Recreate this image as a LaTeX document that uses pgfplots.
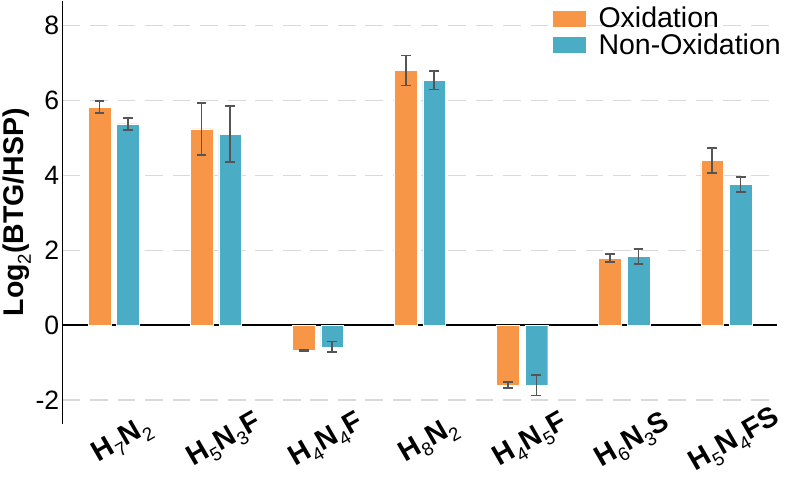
\documentclass[border=0pt]{standalone}
\usepackage{fontspec}
\setmainfont{Liberation Sans}
\usepackage{pgfplots}
\pgfplotsset{compat=1.18}
\definecolor{oxi}{HTML}{F79646}
\definecolor{nonoxi}{HTML}{4BACC6}
\definecolor{errgray}{HTML}{555555}
\definecolor{gridgray}{HTML}{D9D9D9}
\newcommand{\chartfont}{\fontsize{27}{30}\selectfont}
\newcommand{\labelfont}{\fontsize{29}{32}\selectfont}
\newcommand{\sub}[1]{\raisebox{-7pt}{\mdseries\fontsize{19}{19}\selectfont #1}}

\pgfplotstableread{
x  y     e
0  5.82  0.16
1  5.24  0.70
2 -0.67  0.02
3  6.80  0.40
4 -1.61  0.08
5  1.79  0.10
6  4.39  0.33
}\oxidation
\pgfplotstableread{
x  y     e
0  5.37  0.16
1  5.10  0.75
2 -0.58  0.14
3  6.54  0.25
4 -1.61  0.27
5  1.83  0.20
6  3.76  0.20
}\nonoxidation

\begin{document}
\begin{tikzpicture}
\begin{axis}[
  scale only axis,
  width=727pt, height=430pt,
  xmin=-0.5, xmax=6.5,
  ymin=-2.63, ymax=8.66,
  enlargelimits=false,
  ybar=6pt, bar width=23pt,
  axis y line*=left, axis x line*=bottom,
  x axis line style={draw=none},
  y axis line style={line width=1.6pt},
  major tick length=0pt,
  ytick={-2,0,2,4,6,8},
  xtick={0,...,6},
  xticklabels={
    {\textbf{H\sub{7}N\sub{2}}},
    {\textbf{H\sub{5}N\sub{3}F}},
    {\textbf{H\sub{4}N\sub{4}F}},
    {\textbf{H\sub{8}N\sub{2}}},
    {\textbf{H\sub{4}N\sub{5}F}},
    {\textbf{H\sub{6}N\sub{3}S}},
    {\textbf{H\sub{5}N\sub{4}FS}}},
  x tick label style={font=\labelfont, xshift=9pt, yshift=-18pt, rotate=30, anchor=center},
  /pgf/number format/assume math mode=true,
  y tick label style={font=\chartfont},
  ylabel={\textbf{Log\sub{2}(BTG/HSP)}},
  ylabel style={font=\labelfont, yshift=-2pt},
  ymajorgrids,
  grid style={gridgray, line width=1.3pt, dash pattern=on 18pt off 10pt},
  extra y ticks={0},
  extra y tick labels={},
  extra y tick style={grid=major, major grid style={black, solid, line width=1.6pt}},
  legend style={draw=none, fill=none, at={(1.005,0.985)}, anchor=north east,
    font=\labelfont, row sep=4pt, inner sep=0pt,
    nodes={inner sep=0pt},
    /tikz/every odd column/.append style={column sep=12pt}},
  legend cell align=left,
  legend image code/.code={\fill[#1] (0pt,-8.5pt) rectangle (35pt,8.5pt);},
]
\addplot[fill=oxi, draw=white, line width=0.4pt,
  error bars/.cd, y dir=both, y explicit,
  error bar style={errgray, line width=1.8pt},
  error mark options={errgray, rotate=90, mark size=5pt, line width=1.8pt}]
  table[x=x, y=y, y error=e] {\oxidation};
\addplot[fill=nonoxi, draw=white, line width=0.4pt,
  error bars/.cd, y dir=both, y explicit,
  error bar style={errgray, line width=1.8pt},
  error mark options={errgray, rotate=90, mark size=5pt, line width=1.8pt}]
  table[x=x, y=y, y error=e] {\nonoxidation};
\legend{Oxidation, Non-Oxidation}
\end{axis}
\end{tikzpicture}
\end{document}
